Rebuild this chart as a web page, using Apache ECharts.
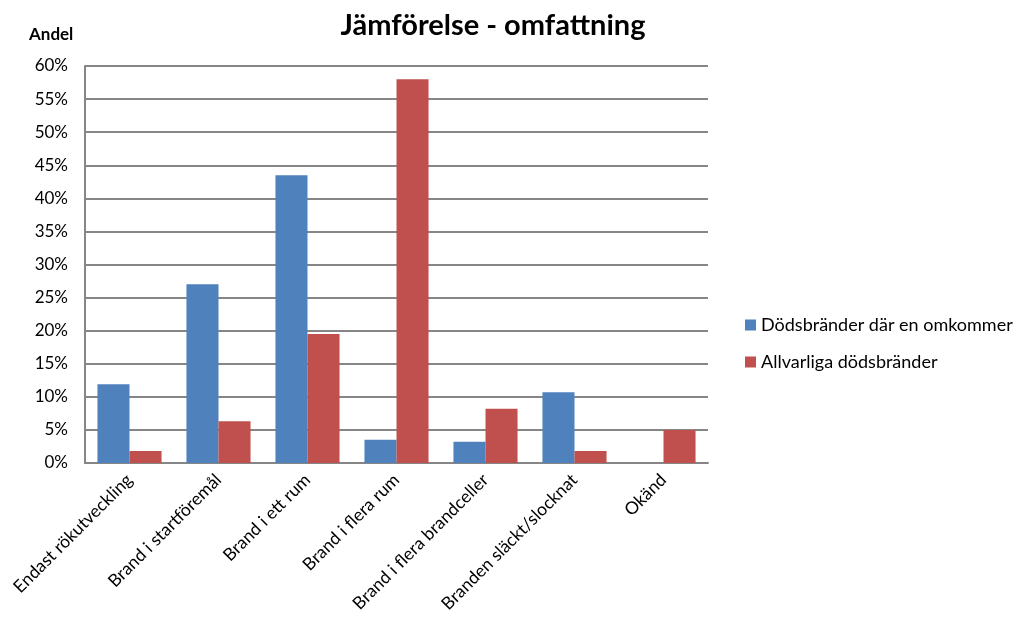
<!DOCTYPE html>
<html>
<head>
<meta charset="utf-8">
<script src="https://cdn.jsdelivr.net/npm/echarts@6/dist/echarts.min.js"></script>
<style>
  html, body { margin: 0; padding: 0; background: #fff; }
  #chart { width: 1013px; height: 623px; }
</style>
</head>
<body>
<div id="chart"></div>
<script>
// Andel per omfattning (%)
const categories = [
  'Endast rökutveckling',
  'Brand i startföremål',
  'Brand i ett rum',
  'Brand i flera rum',
  'Brand i flera brandceller',
  'Branden släckt/slocknat',
  'Okänd'
]
const enOmkommer = [11.9, 27.0, 43.5, 3.5, 3.2, 10.7, 0]
const allvarliga = [1.8, 6.3, 19.5, 58.0, 8.2, 1.8, 5.0]
const seriesNames = ['Dödsbränder där en omkommer', 'Allvarliga dödsbränder']

const font = 'Lato, "Open Sans", sans-serif'
const chart = echarts.init(document.getElementById('chart'))

chart.setOption({
  animation: false,
  textStyle: { fontFamily: font },
  title: [
    {
      text: 'Jämförelse - omfattning',
      left: 488,
      textAlign: 'center',
      top: 6,
      textStyle: { fontSize: 29, fontWeight: 'bold', color: '#000', fontFamily: font }
    },
    {
      text: 'Andel',
      left: 24,
      top: 21,
      textStyle: { fontSize: 17, fontWeight: 'bold', color: '#000', fontFamily: font }
    }
  ],
  legend: {
    orient: 'vertical',
    left: 740,
    top: 311,
    itemWidth: 11,
    itemHeight: 11,
    itemGap: 19,
    icon: 'rect',
    textStyle: { fontSize: 18, color: '#000', fontFamily: font },
    data: seriesNames
  },
  grid: { left: 85, right: 305, top: 66, bottom: 160 },
  xAxis: {
    type: 'category',
    data: categories,
    axisLine: { lineStyle: { color: '#868686', width: 2 } },
    axisTick: { show: false },
    axisLabel: {
      rotate: 45,
      interval: 0,
      margin: 14,
      fontSize: 17.5,
      color: '#000',
      fontFamily: font
    }
  },
  yAxis: {
    type: 'value',
    min: 0,
    max: 60,
    interval: 5,
    axisLine: { show: true, lineStyle: { color: '#868686', width: 2 } },
    axisTick: { show: false },
    axisLabel: {
      formatter: '{value}%',
      margin: 17,
      fontSize: 17,
      color: '#000',
      fontFamily: font
    },
    splitLine: { lineStyle: { color: '#868686', width: 2 } }
  },
  series: [
    {
      name: seriesNames[0],
      type: 'bar',
      data: enOmkommer,
      barGap: '0%',
      barCategoryGap: '28%',
      itemStyle: { color: '#4f81bd' }
    },
    {
      name: seriesNames[1],
      type: 'bar',
      data: allvarliga,
      itemStyle: { color: '#c0504d' }
    }
  ]
})
</script>
</body>
</html>
